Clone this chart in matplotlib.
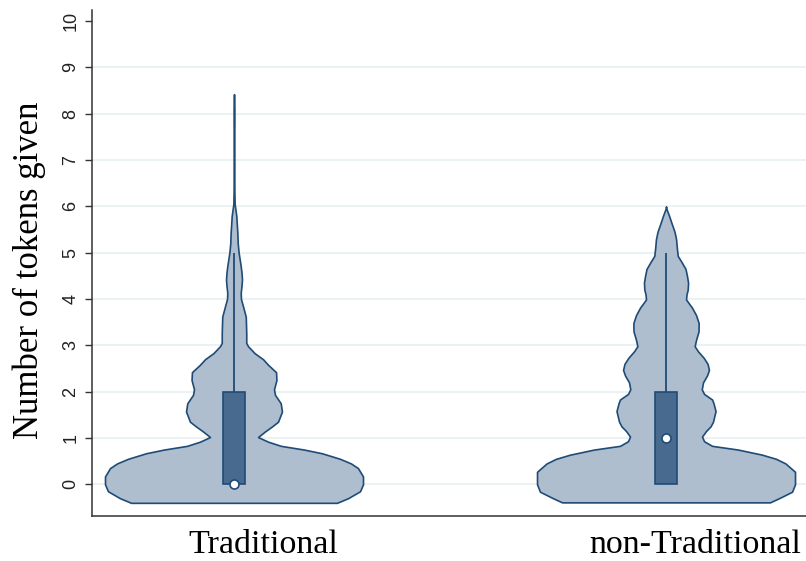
import numpy as np
import matplotlib
matplotlib.use("Agg")
import matplotlib.pyplot as plt
from matplotlib import transforms

# Groups and their positions on the category axis
categories = ["Traditional", "non-Traditional"]
positions = [1, 2]

# Estimated density profiles (relative to the peak) at token values
trad_y = [-0.40, -0.30, -0.15, 0.00, 0.17, 0.35, 0.45, 0.55, 0.67, 0.75, 0.83, 0.92,
          1.02, 1.14, 1.25, 1.35, 1.57, 1.75, 1.93, 2.05, 2.25, 2.42, 2.58, 2.70,
          2.83, 2.98, 3.05, 3.26, 3.45, 3.62, 3.84, 4.00, 4.13, 4.28, 4.42, 4.57,
          4.71, 5.00, 5.20, 5.43, 5.60, 5.79, 6.05, 6.30, 6.60, 7.00, 7.40, 7.80,
          8.10, 8.42]
trad_density = [0.798, 0.884, 0.977, 1.000, 1.000, 0.961, 0.907, 0.822, 0.682, 0.543,
                0.364, 0.264, 0.186, 0.240, 0.295, 0.341, 0.372, 0.362, 0.318, 0.310,
                0.329, 0.326, 0.264, 0.225, 0.160, 0.109, 0.095, 0.095, 0.093, 0.091,
                0.070, 0.054, 0.052, 0.058, 0.062, 0.058, 0.052, 0.036, 0.029, 0.026,
                0.022, 0.018, 0.005, 0.003, 0.002, 0.000, 0.002, 0.003, 0.003, 0.000]

non_y = [-0.39, -0.30, -0.16, 0.00, 0.27, 0.45, 0.55, 0.64, 0.75, 0.83, 0.93, 1.03,
         1.15, 1.25, 1.35, 1.58, 1.75, 1.83, 1.95, 2.05, 2.20, 2.35, 2.47, 2.60,
         2.73, 2.87, 2.98, 3.12, 3.30, 3.48, 3.65, 3.81, 3.99, 4.10, 4.20, 4.35,
         4.49, 4.65, 4.78, 4.93, 5.10, 5.29, 5.45, 5.65, 5.80, 5.94, 6.00]
non_density = [0.806, 0.876, 0.977, 1.000, 1.000, 0.926, 0.853, 0.744, 0.558, 0.357,
               0.295, 0.279, 0.310, 0.345, 0.364, 0.384, 0.368, 0.357, 0.295, 0.277,
               0.287, 0.318, 0.333, 0.322, 0.292, 0.248, 0.222, 0.233, 0.252, 0.253,
               0.233, 0.202, 0.155, 0.159, 0.168, 0.171, 0.163, 0.151, 0.124, 0.091,
               0.084, 0.078, 0.066, 0.041, 0.023, 0.004, 0.000]

# Box plot summaries
q1 = [0, 0]
median = [0, 1]
q3 = [2, 2]
upper_adjacent = [5, 5]

yticks = list(range(0, 11))
grid_levels = list(range(0, 10))

FILL = "#aebecf"
EDGE = "#1f4b76"
BOX = "#476a8e"
GRID = "#e9f1f3"

fig = plt.figure(figsize=(8.06, 5.61), dpi=100)
ax = fig.add_axes([92 / 806, 45 / 561, 714 / 806, 506 / 561])
ax.set_xlim(0.6713, 2.324)
ax.set_ylim(-0.684, 10.237)

ax.hlines(grid_levels, 0.6713, 2.324, colors=GRID, lw=1.3, zorder=0)

half_width = 0.2986
box_half = 0.0245
profiles = [(trad_y, trad_density), (non_y, non_density)]
for i, (yy, dd) in enumerate(profiles):
    pos = positions[i]
    yy = np.asarray(yy)
    dd = np.asarray(dd) * half_width
    ax.fill_betweenx(yy, pos - dd, pos + dd, facecolor=FILL, edgecolor=EDGE,
                     lw=1.2, zorder=2)
    ax.vlines(pos, q3[i], upper_adjacent[i], color=EDGE, lw=1.3, zorder=3)
    ax.bar(pos, q3[i] - q1[i], bottom=q1[i], width=2 * box_half, color=BOX,
           edgecolor=EDGE, lw=1.2, zorder=3)
    ax.plot(pos, median[i], marker="o", ms=6.5, mfc="white", mec=EDGE, mew=1.2,
            zorder=4)

for s in ["top", "right"]:
    ax.spines[s].set_visible(False)
for s in ["left", "bottom"]:
    ax.spines[s].set_color("#333333")
    ax.spines[s].set_linewidth(1.1)

ax.set_yticks(yticks)
ax.set_yticklabels([str(t) for t in yticks], rotation=90, va="center",
                   family="Liberation Sans", fontsize=13, color="#222222")
ax.tick_params(axis="y", length=5, width=1.0, color="#333333", pad=4)
ax.set_xticks([])

label_tf = transforms.blended_transform_factory(ax.transData, fig.transFigure) + \
    transforms.ScaledTranslation(29 / 100, 0, fig.dpi_scale_trans)
for pos, name in zip(positions, categories):
    ax.text(pos, 8 / 561, name, transform=label_tf, ha="center", va="baseline",
            family="Liberation Serif", fontsize=24.5, color="black", clip_on=False)

fig.text(29 / 806, 1 - 270 / 561, "Number of tokens given", rotation=90,
         ha="center", va="center", family="Liberation Serif", fontsize=25,
         color="black")

fig.savefig("out.png", dpi=100)
